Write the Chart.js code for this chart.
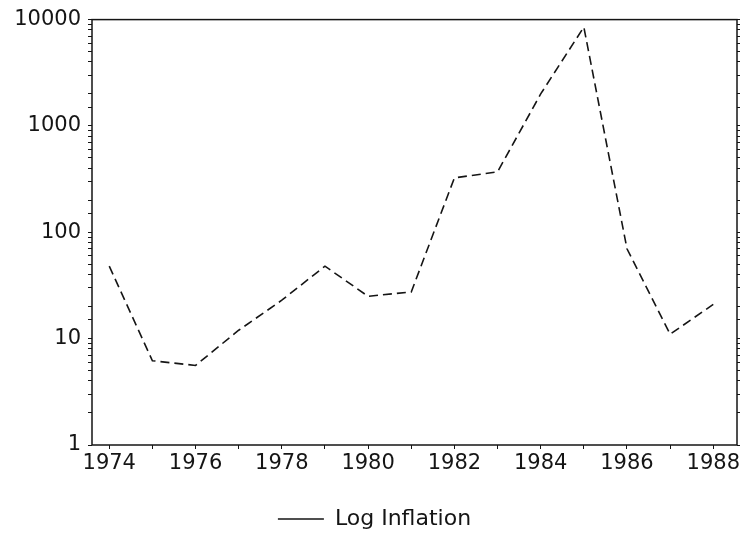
<!DOCTYPE html>
<html>
<head>
<meta charset="utf-8">
<script src="https://cdn.jsdelivr.net/npm/chart.js@4.4.0/dist/chart.umd.min.js"></script>
<style>
  html, body { margin: 0; padding: 0; background: #fff; }
  #wrap { width: 749px; height: 558px; }
</style>
</head>
<body>
<div id="wrap"><canvas id="inflationChart" width="749" height="558"></canvas></div>
<script>
const years = [1974, 1975, 1976, 1977, 1978, 1979, 1980, 1981, 1982, 1983, 1984, 1985, 1986, 1987, 1988];
const inflation = [48, 6.2, 5.6, 12, 23, 48, 25, 27.5, 325, 370, 2000, 8500, 70, 11, 21];
const yTickLabels = [1, 10, 100, 1000, 10000];
const seriesName = "Log Inflation";

const ink = "#151515";
const font = { family: "'DejaVu Sans', sans-serif", size: 21 };

const points = years.map((year, i) => ({ x: year, y: inflation[i] }));

const frame = {
  id: "frame",
  afterDatasetsDraw(chart) {
    const { ctx, chartArea } = chart;
    ctx.save();
    ctx.strokeStyle = ink;
    ctx.lineWidth = 1.5;
    ctx.strokeRect(chartArea.left, chartArea.top, chartArea.right - chartArea.left, chartArea.bottom - chartArea.top);
    ctx.restore();
  },
};

const config = {
  type: "line",
  data: {
    datasets: [
      {
        label: seriesName,
        data: points,
        borderColor: ink,
        borderWidth: 1.6,
        borderDash: [9, 5],
        pointRadius: 0,
        tension: 0,
        xAxisID: "x",
        yAxisID: "y",
      },
    ],
  },
  options: {
    responsive: false,
    animation: false,
    layout: {
      padding: { top: 18, right: 0, left: 0, bottom: 18 },
    },
    plugins: {
      legend: {
        position: "bottom",
        labels: {
          color: ink,
          font: { family: font.family, size: 22 },
          usePointStyle: true,
          pointStyle: "line",
          pointStyleWidth: 46,
          padding: 10,
          generateLabels(chart) {
            const items = Chart.defaults.plugins.legend.labels.generateLabels(chart);
            items.forEach((item) => {
              item.lineDash = [];
              item.lineWidth = 1.6;
            });
            return items;
          },
        },
      },
      tooltip: { enabled: false },
    },
    scales: {
      x: {
        type: "linear",
        position: "bottom",
        min: 1973.6,
        max: 1988.55,
        afterFit(scale) {
          scale.height = 53;
        },
        ticks: {
          stepSize: 1,
          includeBounds: false,
          autoSkip: false,
          maxRotation: 0,
          color: ink,
          font: font,
          padding: 2,
          callback: (value) => (value % 2 === 0 ? String(value) : ""),
        },
        grid: {
          drawOnChartArea: false,
          tickLength: 4,
          color: ink,
        },
        border: { display: false },
      },
      y: {
        type: "logarithmic",
        position: "left",
        min: 1,
        max: 10000,
        afterFit(scale) {
          scale.width = 92;
        },
        ticks: {
          autoSkip: false,
          color: ink,
          font: font,
          padding: 7,
          callback: (value) => (yTickLabels.includes(value) ? String(value) : ""),
        },
        grid: {
          drawOnChartArea: false,
          tickLength: 4,
          color: ink,
        },
        border: { display: false },
      },
      y2: {
        type: "logarithmic",
        position: "right",
        min: 1,
        max: 10000,
        afterFit(scale) {
          scale.width = 12;
        },
        ticks: {
          autoSkip: false,
          display: false,
        },
        grid: {
          drawOnChartArea: false,
          tickLength: 3,
          color: ink,
        },
        border: { display: false },
      },
    },
  },
  plugins: [frame],
};

const ctx = document.getElementById("inflationChart").getContext("2d");
new Chart(ctx, config);
</script>
</body>
</html>
